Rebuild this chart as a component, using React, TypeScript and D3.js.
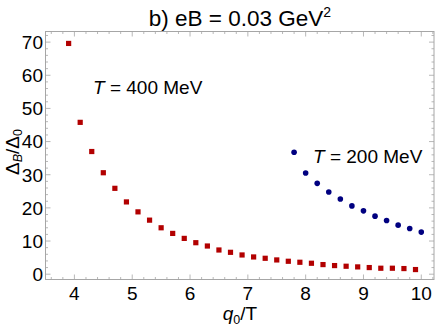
import { useEffect, useRef } from "react";
import * as d3 from "d3";

// T = 400 MeV series (red squares)
const q400 = [3.9, 4.1, 4.3, 4.5, 4.7, 4.9, 5.1, 5.3, 5.5, 5.7, 5.9, 6.1, 6.3, 6.5, 6.7, 6.9, 7.1, 7.3, 7.5, 7.7, 7.9, 8.1, 8.3, 8.5, 8.7, 8.9, 9.1, 9.3, 9.5, 9.7, 9.9];
const ratio400 = [69.6, 45.8, 37.0, 30.6, 25.9, 21.8, 18.8, 16.3, 14.0, 12.3, 10.8, 9.5, 8.5, 7.3, 6.6, 5.8, 5.2, 4.8, 4.3, 3.9, 3.6, 3.3, 2.9, 2.6, 2.4, 2.2, 2.0, 1.8, 1.8, 1.7, 1.4];

// T = 200 MeV series (blue dots)
const q200 = [7.8, 8.0, 8.2, 8.4, 8.6, 8.8, 9.0, 9.2, 9.4, 9.6, 9.8, 10.0];
const ratio200 = [36.8, 30.5, 27.4, 24.8, 22.7, 20.6, 19.1, 17.5, 16.2, 14.8, 13.8, 12.7];

const xTicks = [4, 5, 6, 7, 8, 9, 10];
const yTicks = [0, 10, 20, 30, 40, 50, 60, 70];

function App() {
  const svgRef = useRef<SVGSVGElement | null>(null);

  useEffect(() => {
    const width = 436;
    const height = 327;
    const left = 45.5;
    const right = 434;
    const top = 31.5;
    const bottom = 279.5;
    const frameColor = "#a6a6a6";
    const font = "'Liberation Sans', Arial, sans-serif";

    const svg = d3.select(svgRef.current);
    svg.selectAll("*").remove();
    svg.attr("width", width).attr("height", height);

    const x = d3.scaleLinear().domain([3.5, 10.22]).range([left, right]);
    const y = d3.scaleLinear().domain([-1.6, 73.2]).range([bottom, top]);

    // frame
    svg
      .append("rect")
      .attr("x", left)
      .attr("y", top)
      .attr("width", right - left)
      .attr("height", bottom - top)
      .attr("fill", "none")
      .attr("stroke", frameColor)
      .attr("stroke-width", 1);

    const ticks = svg.append("g").attr("stroke", frameColor).attr("stroke-width", 0.8);

    // x ticks, major + minor, on bottom and top
    const xMinor = d3.range(3.6, 10.21, 0.2).map((v) => Math.round(v * 10) / 10);
    xMinor.forEach((v) => {
      const major = Math.abs(v - Math.round(v)) < 1e-6;
      const len = major ? 5 : 2.5;
      ticks.append("line").attr("x1", x(v)).attr("x2", x(v)).attr("y1", bottom).attr("y2", bottom - len);
      ticks.append("line").attr("x1", x(v)).attr("x2", x(v)).attr("y1", top).attr("y2", top + len);
    });

    // y ticks, major + minor, on left and right
    const yMinor = d3.range(0, 73, 2);
    yMinor.forEach((v) => {
      const major = v % 10 === 0;
      const len = major ? 5 : 2.5;
      ticks.append("line").attr("y1", y(v)).attr("y2", y(v)).attr("x1", left).attr("x2", left + len);
      ticks.append("line").attr("y1", y(v)).attr("y2", y(v)).attr("x1", right).attr("x2", right - len);
    });

    // tick labels
    svg
      .append("g")
      .selectAll("text")
      .data(xTicks)
      .enter()
      .append("text")
      .attr("x", (d) => x(d))
      .attr("y", 300)
      .attr("text-anchor", "middle")
      .style("font-family", font)
      .style("font-size", "19px")
      .text((d) => d);

    svg
      .append("g")
      .selectAll("text")
      .data(yTicks)
      .enter()
      .append("text")
      .attr("x", 43)
      .attr("y", (d) => y(d))
      .attr("dy", "0.36em")
      .attr("text-anchor", "end")
      .style("font-family", font)
      .style("font-size", "19px")
      .text((d) => d);

    // title
    const title = svg
      .append("text")
      .attr("x", 240)
      .attr("y", 26)
      .attr("text-anchor", "middle")
      .style("font-family", font)
      .style("font-size", "22.5px");
    title.append("tspan").text("b) eB = 0.03 GeV");
    title.append("tspan").attr("dy", -9).style("font-size", "14px").text("2");

    // x axis label q0/T
    const xl = svg
      .append("text")
      .attr("x", 240)
      .attr("y", 320)
      .attr("text-anchor", "middle")
      .style("font-family", font)
      .style("font-size", "19px");
    xl.append("tspan").style("font-style", "italic").text("q");
    xl.append("tspan").attr("dy", 4).style("font-size", "12.5px").text("0");
    xl.append("tspan").attr("dy", -4).text("/T");

    // y axis label ΔB/Δ0
    const yl = svg
      .append("text")
      .attr("transform", `translate(19, 152) rotate(-90)`)
      .attr("text-anchor", "middle")
      .style("font-family", font)
      .style("font-size", "19px");
    yl.append("tspan").text("Δ");
    yl.append("tspan").attr("dy", 3).style("font-size", "12.5px").style("font-style", "italic").text("B");
    yl.append("tspan").attr("dy", -3).text("/Δ");
    yl.append("tspan").attr("dy", 3).style("font-size", "12.5px").text("0");

    // red squares
    const s = 5.2;
    svg
      .append("g")
      .selectAll("rect")
      .data(q400.map((q, i) => ({ q, r: ratio400[i] })))
      .enter()
      .append("rect")
      .attr("x", (d) => x(d.q) - s / 2)
      .attr("y", (d) => y(d.r) - s / 2)
      .attr("width", s)
      .attr("height", s)
      .attr("fill", "#b20000");

    // blue dots
    svg
      .append("g")
      .selectAll("circle")
      .data(q200.map((q, i) => ({ q, r: ratio200[i] })))
      .enter()
      .append("circle")
      .attr("cx", (d) => x(d.q))
      .attr("cy", (d) => y(d.r))
      .attr("r", 2.8)
      .attr("fill", "#000080");

    // annotations
    const addLabel = (tx: number, ty: number, val: string) => {
      const t = svg
        .append("text")
        .attr("x", tx)
        .attr("y", ty)
        .style("font-family", font)
        .style("font-size", "19px");
      t.append("tspan").style("font-style", "italic").text("T");
      t.append("tspan").text(` = ${val} MeV`);
    };
    addLabel(93, 94, "400");
    addLabel(313, 163, "200");
  }, []);

  return (
    <div style={{ position: "absolute", left: 0, top: 0 }}>
      <svg ref={svgRef}></svg>
    </div>
  );
}

export default App;
